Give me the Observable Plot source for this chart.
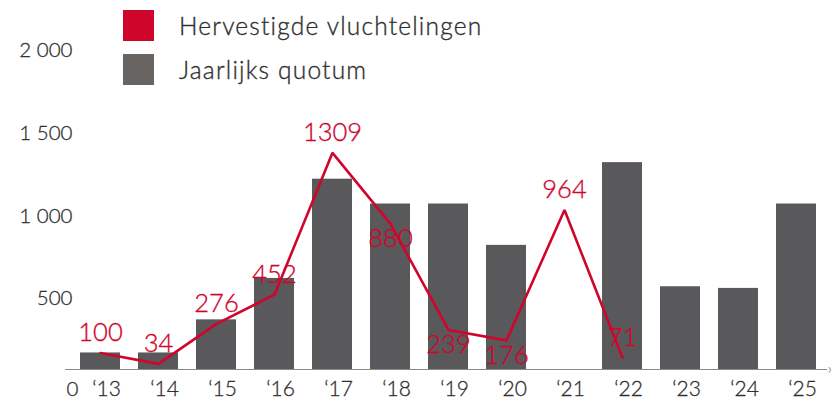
<!DOCTYPE html>
<html>
<head>
<meta charset="utf-8">
<script src="https://cdn.jsdelivr.net/npm/d3@7"></script>
<script src="https://cdn.jsdelivr.net/npm/@observablehq/plot@0.6"></script>
<style>
  html, body { margin: 0; padding: 0; background: #fff; }
  #wrap { position: relative; width: 831px; height: 406px; font-family: Lato, "Open Sans", sans-serif; }
  #legend { position: absolute; left: 123px; top: 10px; }
  .item { display: flex; align-items: center; height: 31px; margin-bottom: 13px; }
  .sw { width: 31px; height: 31px; margin-right: 25px; }
  .lbl { font-size: 24.5px; font-weight: 300; color: #2f2f2f; letter-spacing: 1.2px; -webkit-text-stroke: 0.35px #2f2f2f; }
  svg text { font-family: Lato, "Open Sans", sans-serif; font-weight: 300; }
</style>
</head>
<body>
<div id="wrap">
  <div id="chart"></div>
  <div id="legend"></div>
</div>
<script>
const years = ["2013","2014","2015","2016","2017","2018","2019","2020","2021","2022","2023","2024","2025"];
const yearLabels = ["‘13","‘14","‘15","‘16","‘17","‘18","‘19","‘20","‘21","‘22","‘23","‘24","‘25"];
const quota = [100, 100, 300, 550, 1150, 1000, 1000, 750, null, 1250, 500, 490, 1000];
const resettledYears = ["2013","2014","2015","2016","2017","2018","2019","2020","2021","2022"];
const resettled = [100, 34, 276, 452, 1309, 880, 239, 176, 964, 71];
const yTickValues = [0, 500, 1000, 1500, 2000];
const yTickLabels = ["0", "500", "1 000", "1 500", "2 000"];
const seriesNames = ["Hervestigde vluchtelingen", "Jaarlijks quotum"];

const RED = "#d0052c";
const GRAY = "#59595b";
const TEXT = "#2f2f2f";

const quotaData = years.map((y, i) => ({year: y, value: quota[i]})).filter(d => d.value != null);
const resData = resettledYears.map((y, i) => ({year: y, value: resettled[i]}));
const belowSet = new Set(["2018", "2019", "2020"]);
const yTicks = yTickValues.map((v, i) => ({v, label: yTickLabels[i]}));
const xTicks = years.map((y, i) => ({year: y, label: yearLabels[i]}));

const chart = Plot.plot({
  width: 831,
  height: 406,
  marginTop: 38,
  marginBottom: 37,
  marginLeft: 70,
  marginRight: 4,
  style: {background: "transparent", overflow: "visible"},
  x: {type: "band", domain: years, paddingInner: 0.31, paddingOuter: 0.155, axis: null},
  y: {domain: [0, 2000], axis: null},
  marks: [
    Plot.barY(quotaData, {x: "year", y: "value", fill: GRAY}),
    Plot.ruleY([0], {stroke: "#8a8a8a", strokeWidth: 1.2, insetLeft: -5}),
    Plot.text([0], {y: d => d, text: () => "›", frameAnchor: "right", textAnchor: "start", dx: 0, dy: -1, fontSize: 16, fill: "#666"}),
    Plot.lineY(resData, {x: "year", y: "value", stroke: RED, strokeWidth: 2.6, strokeLinejoin: "miter"}),
    Plot.text(resData.filter(d => !belowSet.has(d.year)), {x: "year", y: "value", text: d => String(d.value), dy: -20, fontSize: 25.5, fill: RED, stroke: RED, strokeWidth: 0.35, style: "letter-spacing: 0.4px"}),
    Plot.text(resData.filter(d => belowSet.has(d.year)), {x: "year", y: "value", text: d => String(d.value), dy: 15, fontSize: 25.5, fill: RED, stroke: RED, strokeWidth: 0.35, style: "letter-spacing: 0.4px"}),
    Plot.text(yTicks.filter(d => d.v > 0), {y: "v", text: "label", frameAnchor: "left", textAnchor: "end", dx: 2, dy: 12, fontSize: 20.5, fill: TEXT, stroke: TEXT, strokeWidth: 0.3, style: "letter-spacing: 1px"}),
    Plot.text(yTicks.filter(d => d.v === 0), {y: "v", text: "label", frameAnchor: "left", textAnchor: "middle", dx: 2, dy: 20, fontSize: 20.5, fill: TEXT, stroke: TEXT, strokeWidth: 0.3}),
    Plot.text(xTicks, {x: "year", text: "label", frameAnchor: "bottom", dx: 6, dy: 26, fontSize: 21, fill: TEXT, stroke: TEXT, strokeWidth: 0.3})
  ]
});
document.getElementById("chart").appendChild(chart);

const legend = document.getElementById("legend");
[RED, "#676462"].forEach((c, i) => {
  const it = document.createElement("div");
  it.className = "item";
  const sw = document.createElement("div");
  sw.className = "sw";
  sw.style.background = c;
  const lb = document.createElement("div");
  lb.className = "lbl";
  lb.textContent = seriesNames[i];
  it.appendChild(sw);
  it.appendChild(lb);
  legend.appendChild(it);
});
</script>
</body>
</html>
